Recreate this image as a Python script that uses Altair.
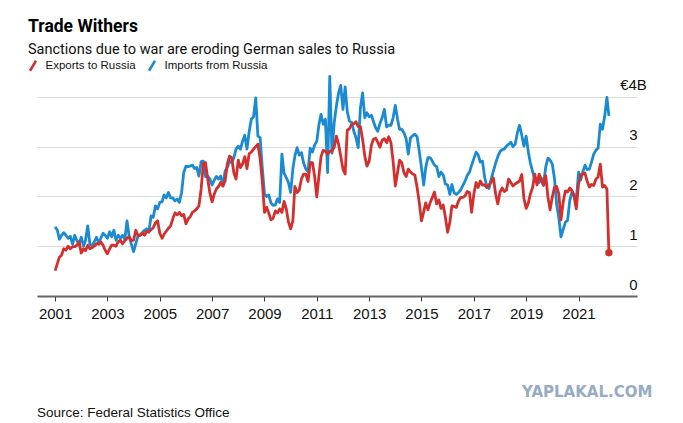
import altair as alt
import pandas as pd

# Monthly values, Jan 2001 .. Mar 2022, billions of euros
exports_to_russia = [
    0.51, 0.65, 0.78, 0.82, 0.95, 0.92, 1.00, 0.95, 0.99, 0.99, 1.02, 1.09, 0.86, 0.95, 0.91, 1.02, 0.95, 0.97, 1.00, 1.05,
    1.04, 1.09, 1.02, 0.92, 0.85, 0.95, 1.02, 1.02, 1.00, 1.09, 1.12, 1.05, 1.11, 1.16, 1.19, 1.11, 1.12, 1.32, 1.22, 1.22,
    1.26, 1.22,
    1.30, 1.29, 1.33, 1.37, 1.47, 1.51, 1.26, 1.16, 1.24, 1.30, 1.36, 1.41, 1.55, 1.67, 1.63, 1.68, 1.61, 1.64, 1.45, 1.55,
    1.59, 1.68, 1.71, 1.75, 1.81, 2.15, 2.67, 2.68, 2.35, 2.07, 1.89, 2.05, 2.15, 2.20, 2.28, 2.21, 2.31, 2.65, 2.81, 2.78,
    2.47, 2.35, 2.73, 2.58, 2.65, 2.80,
    2.56, 2.86, 2.89, 2.95, 3.00, 3.05, 2.76, 2.31, 1.68, 1.78, 1.67, 1.53, 1.56, 1.71, 1.67, 1.75, 1.68, 1.90, 1.75, 1.49,
    1.35, 1.51, 2.20, 2.08, 2.13, 2.35, 2.45, 2.45, 2.30, 2.68, 2.68, 2.41, 1.99, 2.43, 2.80, 2.93, 2.91, 2.85, 2.91, 2.91,
    2.99, 3.21, 3.05, 2.81, 2.55, 2.45,
    3.33, 3.36, 3.45, 3.46, 3.50, 3.40, 3.40, 3.15, 2.81, 2.61, 2.71, 3.03, 3.15, 3.17, 3.09, 2.99, 3.13, 3.16, 3.08, 3.20,
    3.08, 2.71, 2.21, 2.48, 2.73, 2.68, 2.48, 2.40, 2.55, 2.49, 2.45, 2.43, 2.18, 1.88, 1.51, 1.69, 1.87, 1.73, 1.87, 1.98,
    2.09, 1.85, 1.93, 1.76, 1.83, 1.58,
    1.28, 1.48, 1.81, 1.80, 1.78, 1.91, 1.98, 1.98, 2.01, 2.10, 2.08, 1.68, 2.05, 2.28, 2.18, 2.31, 2.23, 2.23, 2.18, 2.23,
    2.30, 2.37, 2.05, 1.85, 2.09, 2.17, 2.10, 2.13, 2.35, 2.28, 2.21, 2.25, 2.28, 2.31, 2.44, 1.96, 1.76, 1.87, 2.05, 2.18,
    2.45, 2.23, 2.45,
    2.32, 2.22, 2.42, 1.99, 1.73, 1.99, 2.19, 2.20, 2.05, 1.53, 1.89, 2.11, 2.09, 2.17, 2.12, 1.99, 1.75, 2.25, 2.44, 2.45,
    2.47, 2.31, 2.19, 2.24, 2.22, 2.35, 2.39, 2.65, 2.19, 2.22, 2.15, 0.87,
]

imports_from_russia = [
    1.39, 1.32, 1.14, 1.22, 1.27, 1.22, 1.16, 1.20, 1.04, 1.22, 1.11, 1.05, 1.18, 1.00, 1.12, 1.41, 1.05, 1.00, 1.09, 1.18,
    1.07, 1.16, 1.26, 1.22, 1.16, 1.29, 1.19, 1.32, 1.12, 1.22, 1.16, 1.22, 1.14, 1.51, 1.19, 1.04, 0.89, 1.05, 1.20, 1.22,
    1.27, 1.32,
    1.35, 1.28, 1.61, 1.58, 1.81, 1.75, 1.88, 1.89, 2.03, 1.97, 2.08, 1.97, 1.97, 1.91, 1.95, 1.88, 2.08, 2.48, 2.61, 2.60,
    2.61, 2.63, 2.56, 2.58, 2.41, 2.70, 2.71, 2.40, 2.41, 2.35, 2.23, 2.33, 2.40, 2.35, 2.41, 2.21, 2.51, 2.58, 2.71, 2.68,
    2.78, 2.95, 3.01, 2.95, 3.11, 3.23,
    2.95, 3.30, 3.55, 3.60, 3.98, 3.21, 3.18, 2.58, 2.05, 2.00, 2.03, 1.87, 1.82, 1.83, 1.95, 1.88, 2.85, 2.47, 2.38, 2.28,
    2.08, 2.55, 2.81, 2.98, 2.83, 2.88, 2.67, 2.55, 2.50, 2.97, 2.89, 3.03, 3.11, 3.45, 3.65, 3.45, 3.55, 2.48, 4.41, 2.87,
    3.48, 3.81, 4.08, 4.23, 3.75, 4.20,
    3.71, 3.51, 3.49, 3.31, 3.18, 2.98, 3.78, 4.08, 3.58, 3.68, 3.60, 3.63, 3.51, 3.38, 3.31, 3.47, 3.58, 3.75, 3.40, 3.43,
    3.43, 3.58, 3.83, 3.55, 3.35, 3.35, 3.28, 3.16, 2.85, 3.18, 3.22, 3.25, 3.20, 2.91, 2.58, 2.23, 2.58, 2.78, 2.78, 2.71,
    2.63, 2.60, 2.40, 2.49, 2.43, 2.25,
    2.23, 2.04, 2.24, 2.07, 2.04, 2.08, 2.13, 2.22, 2.31, 2.42, 2.49, 2.63, 2.76, 2.89, 2.84, 2.69, 2.71, 2.38, 2.21, 2.16,
    2.36, 2.51, 2.67, 2.80, 2.90, 2.94, 2.95, 3.01, 3.05, 3.09, 3.00, 3.05, 3.28, 3.43, 3.23, 3.01, 3.21, 2.89, 2.67, 2.50,
    2.33, 2.28, 2.28,
    2.37, 2.25, 2.59, 2.77, 2.73, 2.65, 2.35, 1.85, 1.57, 1.19, 1.34, 1.48, 1.52, 1.92, 2.09, 2.04, 1.91, 2.49, 2.33, 2.49,
    2.63, 2.54, 2.55, 2.69, 2.85, 2.93, 2.97, 3.45, 3.35, 3.61, 3.99, 3.62,
]

series_names = ["Exports to Russia", "Imports from Russia"]
series_colors = ["#d42f2c", "#1a8ad2"]
tick_years = list(range(2001, 2022, 2))
y_ticks = [0, 1, 2, 3, 4]

title_text = "Trade Withers"
subtitle_text = "Sanctions due to war are eroding German sales to Russia"
source_text = "Source: Federal Statistics Office"
watermark_text = "YAPLAKAL.COM"

months = pd.date_range("2001-01-01", "2022-03-01", freq="MS")

exp_df = pd.DataFrame({"date": months, "value": exports_to_russia, "series": series_names[0]})
imp_df = pd.DataFrame({"date": months, "value": imports_from_russia, "series": series_names[1]})
last_df = exp_df.tail(1)

W, H = 600, 224

x_enc = alt.X(
    "date:T",
    scale=alt.Scale(domain=[alt.DateTime(year=2000, month=4, date=23),
                            alt.DateTime(year=2023, month=3, date=28)]),
    axis=alt.Axis(
        values=[alt.DateTime(year=y, month=1, date=1) for y in tick_years],
        format="%Y", title=None, grid=False,
        domainColor="#666666", domainWidth=2,
        tickColor="#333333", tickSize=5, tickWidth=1,
        labelFont="Liberation Sans", labelFontSize=15, labelColor="#111111",
        labelPadding=5,
    ),
)
y_enc = alt.Y(
    "value:Q",
    scale=alt.Scale(domain=[0, 4.5], nice=False),
    axis=alt.Axis(
        orient="right", values=y_ticks, title=None,
        labelExpr="datum.value == 4 ? '€4B' : datum.label",
        domain=False, ticks=False, tickSize=0,
        gridColor="#dcdcdc", gridWidth=1,
        labelAlign="center", labelBaseline="alphabetic",
        labelOffset=-7, labelPadding=-4,
        labelFont="Liberation Sans", labelFontSize=15, labelColor="#111111",
    ),
)
color_enc = alt.Color(
    "series:N",
    scale=alt.Scale(domain=series_names, range=series_colors),
    legend=alt.Legend(
        orient="none", legendX=-10.5, legendY=-13, direction="horizontal",
        title=None, padding=0,
        symbolType="M-0.6,1L0.6,-1", symbolSize=100, symbolStrokeWidth=2.5,
        labelFont="Liberation Sans", labelFontSize=11.5, labelColor="#111111",
        labelOffset=6, columnPadding=7,
    ),
)

imp_line = alt.Chart(imp_df).mark_line(strokeWidth=2.8, strokeJoin="round").encode(
    x=x_enc, y=y_enc, color=color_enc)
exp_line = alt.Chart(exp_df).mark_line(strokeWidth=2.8, strokeJoin="round").encode(
    x=x_enc, y=y_enc, color=color_enc)
end_dot = alt.Chart(last_df).mark_circle(size=55, opacity=1, color=series_colors[0]).encode(
    x=x_enc, y=y_enc)

source = alt.Chart(pd.DataFrame({"t": [source_text]})).mark_text(
    align="left", baseline="alphabetic", font="Liberation Sans", fontSize=13.5, color="#111111"
).encode(x=alt.value(0), y=alt.value(345), text="t:N")
watermark = alt.Chart(pd.DataFrame({"t": [watermark_text]})).mark_text(
    align="left", baseline="alphabetic", font="DejaVu Sans", fontWeight="bold", fontSize=15, color="#97abc4"
).encode(x=alt.value(485), y=alt.value(325), text="t:N")

chart = alt.layer(imp_line, exp_line, end_dot, source, watermark).properties(
    width=W, height=H,
    title=alt.TitleParams(
        title_text, subtitle=subtitle_text, anchor="start", frame="group", dx=-9,
        font="Roboto", fontSize=17.5, fontWeight="bold", color="#000000",
        subtitleFont="Roboto", subtitleFontSize=14.5, subtitleColor="#111111",
        subtitlePadding=7, offset=3,
    ),
    autosize=alt.AutoSizeParams(type="none"),
    padding={"left": 29, "top": 64, "right": 38, "bottom": 127},
    background="white",
).configure_view(strokeWidth=0)

chart.save("out.html", embed_options={"renderer": "svg", "actions": False})
